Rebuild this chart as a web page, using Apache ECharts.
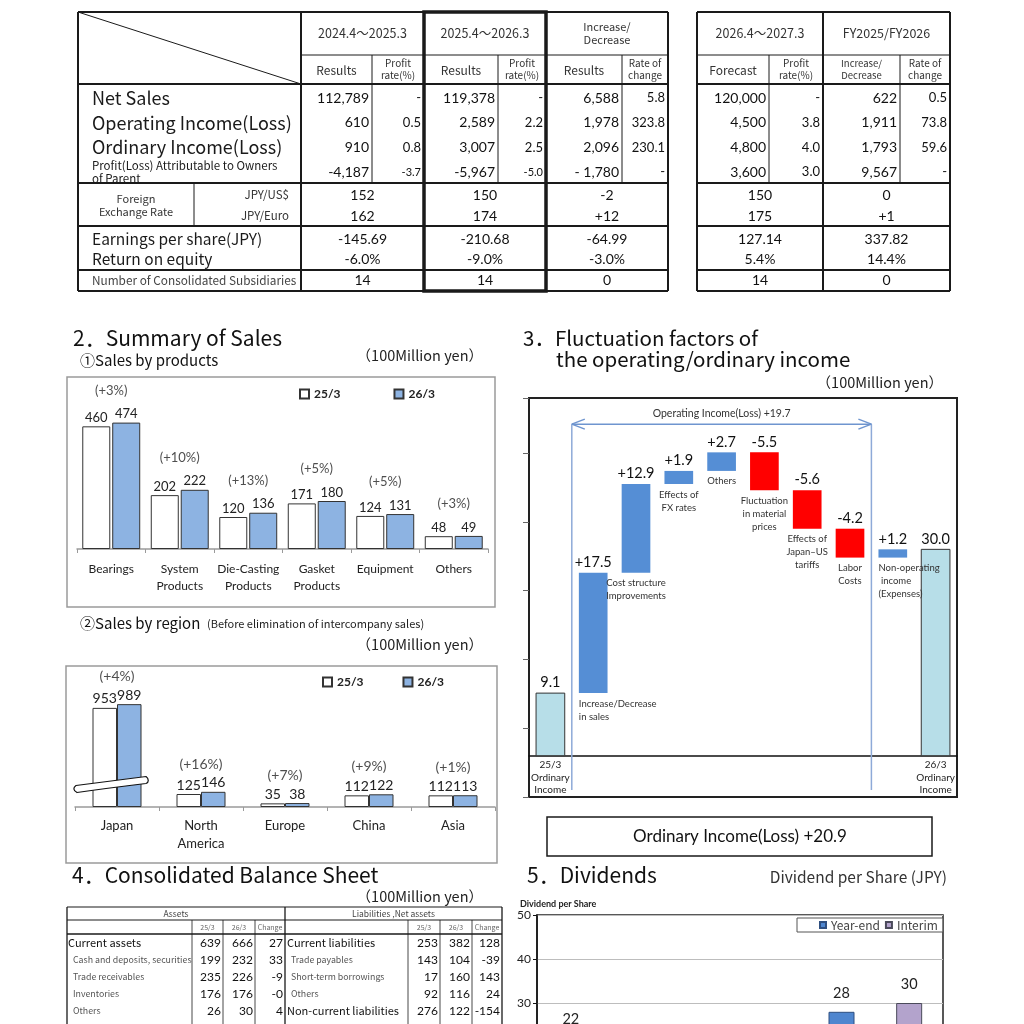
<!DOCTYPE html>
<html><head><meta charset="utf-8">
<script src="https://cdn.jsdelivr.net/npm/echarts@6/dist/echarts.min.js"></script>
<style>html,body{margin:0;padding:0;background:#fff}#c{width:1024px;height:1024px}</style>
</head><body><div id="c"></div>
<script>
// ================= DATA =================
// 1. summary table
const tableRowLabels = ['Net Sales','Operating Income(Loss)','Ordinary Income(Loss)','Profit(Loss) Attributable to Owners\nof Parent'];
const results2025 = ['112,789','610','910','-4,187'];
const rate2025 = ['-','0.5','0.8','-3.7'];
const results2026 = ['119,378','2,589','3,007','-5,967'];
const rate2026 = ['-','2.2','2.5','-5.0'];
const changeResults = ['6,588','1,978','2,096','- 1,780'];
const changeRate = ['5.8','323.8','230.1','-'];
const forecast2027 = ['120,000','4,500','4,800','3,600'];
const forecastRate = ['-','3.8','4.0','3.0'];
const fyChange = ['622','1,911','1,793','9,567'];
const fyChangeRate = ['0.5','73.8','59.6','-'];
const fxLabels = ['JPY/US$','JPY/Euro'];
const fx2025 = ['152','162'];
const fx2026 = ['150','174'];
const fxChange = ['-2','+12'];
const fxForecast = ['150','175'];
const fxFyChange = ['0','+1'];
const perShareLabels = ['Earnings per share(JPY)','Return on equity'];
const perShare2025 = ['-145.69','-6.0%'];
const perShare2026 = ['-210.68','-9.0%'];
const perShareChange = ['-64.99','-3.0%'];
const perShareForecast = ['127.14','5.4%'];
const perShareFyChange = ['337.82','14.4%'];
const subsidiaryCounts = ['14','14','0','14','0'];
const periodHeaders = ['2024.4～2025.3','2025.4～2026.3','Increase/\nDecrease','2026.4～2027.3','FY2025/FY2026'];
const subHeaders = ['Results','Profit\nrate(%)','Results','Profit\nrate(%)','Results','Rate of\nchange','Forecast','Profit\nrate(%)','Increase/\nDecrease','Rate of\nchange'];

// 2. sales
const productCats = ['Bearings','System\nProducts','Die-Casting\nProducts','Gasket\nProducts','Equipment','Others'];
const product25 = [460,202,120,171,124,48];
const product26 = [474,222,136,180,131,49];
const productPct = ['(+3%)','(+10%)','(+13%)','(+5%)','(+5%)','(+3%)'];
const regionCats = ['Japan','North\nAmerica','Europe','China','Asia'];
const region25 = [953,125,35,112,112];
const region26 = [989,146,38,122,113];
const regionPct = ['(+4%)','(+16%)','(+7%)','(+9%)','(+1%)'];

// 3. bridge
const bridgeCats = ['25/3\nOrdinary\nIncome','Increase/Decrease\nin sales','Cost structure\nImprovements','Effects of\nFX rates','Others','Fluctuation\nin material\nprices','Effects of\nJapan–US\ntariffs','Labor\nCosts','Non-operating\n income\n(Expenses)','26/3\nOrdinary\nIncome'];
const bridgeValues = [9.1, 17.5, 12.9, 1.9, 2.7, -5.5, -5.6, -4.2, 1.2, 30.0];

// 4. balance sheet
const assetLabels = ['Current assets','Cash and deposits, securities','Trade receivables','Inventories','Others'];
const assetLevels = [0,1,1,1,1];
const assets25 = ['639','199','235','176','26'];
const assets26 = ['666','232','226','176','30'];
const assetsChange = ['27','33','-9','-0','4'];
const liabLabels = ['Current liabilities','Trade payables','Short-term borrowings','Others','Non-current liabilities'];
const liabLevels = [0,1,1,1,0];
const liab25 = ['253','143','17','92','276'];
const liab26 = ['382','104','160','116','122'];
const liabChange = ['128','-39','143','24','-154'];

// 5. dividends
const divCats = ['22/3','23/3','24/3','25/3','26/3','27/3'];
const divInterim = [11,8,5,5,14,30];
const divYearEnd = [11,8,5,5,14,null];

// ================= HELPERS =================
const JP = '"Noto Sans CJK JP", "Noto Sans", sans-serif';
const NUM = 'Lato, "Noto Sans", sans-serif';
const G = [];
function L(x1,y1,x2,y2,w,c){G.push({type:'line',silent:true,z:10,shape:{x1,y1,x2,y2},style:{stroke:c||'#1a1a1a',lineWidth:w||1}});}
function T(x,y,text,o){o=o||{};const st={text:text,fill:o.fill||'#222',fontSize:o.size||12,fontFamily:o.font||JP,fontWeight:o.weight||'normal',textAlign:o.align||'left',textVerticalAlign:o.valign||'middle',align:o.align||'left',verticalAlign:o.valign||'middle'};if(o.lh)st.lineHeight=o.lh;G.push({type:'text',silent:true,z:11,x:x,y:y,style:st});}
function R(x,y,w,h,o){o=o||{};G.push({type:'rect',silent:true,z:o.z||9,shape:{x,y,width:w,height:h},style:{fill:o.fill||'transparent',stroke:o.stroke||'#1a1a1a',lineWidth:o.lw||1}});}

// ---------- top table ----------
[12,84,183,226,270,291].forEach(y=>{L(78,y,668,y,2);L(697,y,950,y,2);});
L(301,55,668,55,1);L(697,55,950,55,1);
[78,301,668,697,823,950].forEach(x=>L(x,12,x,291,2));
[372,498,622,769,900].forEach(x=>L(x,55,x,183,1));
L(194,183,194,226,1);
L(78,12,301,84,1);
R(424,12,122,279,{lw:3.5,z:12});
const groupCenters=[362.5,485,607,760,886.5];
periodHeaders.forEach((h,i)=>T(groupCenters[i],33,h,{align:'center',size:h.indexOf('\n')>=0?11:12.5,fill:'#333',lh:13}));
const subEdges=[301,372,424,498,546,622,668];
const subEdgesR=[697,769,823,900,950];
subHeaders.forEach((h,i)=>{
  let x;
  if(i<6){x=(subEdges[i]+subEdges[i+1])/2;}else{const k=i-6;x=(subEdgesR[k]+subEdgesR[k+1])/2;}
  const two=h.indexOf('\n')>=0;
  T(x,two?69.5:70,h,{align:'center',size:two?(i===8?9.5:10):12,fill:'#333',lh:12});
});
const rowY=i=>98+24.7*i;
tableRowLabels.forEach((t,i)=>{
  if(i<3) T(92,rowY(i),t,{size:18,fill:'#1a1a1a'});
  else T(92,rowY(i),t,{size:11.5,fill:'#1a1a1a',lh:13});
});
const leftCols=[[results2025,369,14],[rate2025,421,13],[results2026,495,14],[rate2026,543,13],[changeResults,619,14],[changeRate,665,13]];
leftCols.forEach(([arr,x,s])=>arr.forEach((v,i)=>T(x,rowY(i),v,{align:'right',font:NUM,size:(i===3&&s===13&&x<560)?11:s,fill:'#111'})));
const rightCols=[[forecast2027,766,14],[forecastRate,820,13],[fyChange,897,14],[fyChangeRate,947,13]];
rightCols.forEach(([arr,x,s])=>arr.forEach((v,i)=>T(x,rowY(i),v,{align:'right',font:NUM,size:s,fill:'#111'})));
T(136,205.5,'Foreign\nExchange Rate',{align:'center',size:11,fill:'#333',lh:13});
const fxY=[195,216];
fxLabels.forEach((t,i)=>T(289,fxY[i],t,{align:'right',size:11.5,fill:'#333'}));
[fx2025,fx2026,fxChange,fxForecast,fxFyChange].forEach((arr,k)=>arr.forEach((v,i)=>T(groupCenters[k],fxY[i],v,{align:'center',font:NUM,size:14,fill:'#111'})));
const psY=[239,259];
perShareLabels.forEach((t,i)=>T(92,psY[i],t,{size:15.5,fill:'#1a1a1a'}));
[perShare2025,perShare2026,perShareChange,perShareForecast,perShareFyChange].forEach((arr,k)=>arr.forEach((v,i)=>T(groupCenters[k],psY[i],v,{align:'center',font:NUM,size:14,fill:'#111'})));
T(92,280.5,'Number of Consolidated Subsidiaries',{size:11.8,fill:'#444'});
subsidiaryCounts.forEach((v,k)=>T(groupCenters[k],280.5,v,{align:'center',font:NUM,size:14,fill:'#111'}));

// ---------- section headings ----------
T(73,338,'2．Summary of Sales',{size:21,fill:'#111'});
T(80,360,'①Sales by products',{size:15,fill:'#111'});
T(483,355,'（100Million yen）',{align:'right',size:14.5,fill:'#222'});
R(67,377,428,230,{stroke:'#9a9a9a',lw:1.5});
T(80,623,'②Sales by region',{size:15,fill:'#111'});
T(207,624,'(Before elimination of intercompany sales)',{size:11,fill:'#222'});
T(483,644,'（100Million yen）',{align:'right',size:14.5,fill:'#222'});
R(66,666,431,197,{stroke:'#9a9a9a',lw:1.5});
T(523,338,'3．Fluctuation factors of',{size:20.5,fill:'#111'});
T(556,359,'the operating/ordinary income',{size:20.5,fill:'#111'});
T(943,382,'（100Million yen）',{align:'right',size:14.5,fill:'#222'});
R(547,817,385,39,{lw:1.5});
const ordinaryDelta=(bridgeValues[bridgeValues.length-1]-bridgeValues[0]).toFixed(1);
T(740,837,'Ordinary Income(Loss) +'+ordinaryDelta,{align:'center',font:NUM,size:17,fill:'#111'});
T(72,875,'4．Consolidated Balance Sheet',{size:21,fill:'#111'});
T(483,896,'（100Million yen）',{align:'right',size:14.5,fill:'#222'});
T(527,875,'5．Dividends',{size:21,fill:'#111'});
T(947,877,'Dividend per Share (JPY)',{align:'right',size:15.5,fill:'#333'});
T(520,904,'Dividend per Share',{size:9,font:NUM,weight:'bold',fill:'#222'});

// ---------- balance sheet table ----------
L(67,907,502,907,1.2);L(67,920,502,920,1);L(67,934,502,934,1.5);
[67,285,502].forEach(x=>L(x,907,x,1030,1.3));
[192,223,255,408,440,472].forEach(x=>L(x,920,x,1030,0.8));
T(176,913.5,'Assets',{align:'center',size:8.5,fill:'#444'});
T(393.5,913.5,'Liabilities ,Net assets',{align:'center',size:8.5,fill:'#444'});
const bsHead=['25/3','26/3','Change'];
[[192,223,255,285],[408,440,472,502]].forEach(e=>bsHead.forEach((h,i)=>T((e[i]+e[i+1])/2,927,h,{align:'center',size:7,fill:'#666'})));
const bsY=i=>943+17*i;
assetLabels.forEach((t,i)=>T(assetLevels[i]?73:68,bsY(i),t,assetLevels[i]?{size:8.8,fill:'#555'}:{size:11,fill:'#111'}));
liabLabels.forEach((t,i)=>T(liabLevels[i]?291:287,bsY(i),t,liabLevels[i]?{size:8.8,fill:'#555'}:{size:11,fill:'#111'}));
[[assets25,221],[assets26,253],[assetsChange,283],[liab25,438],[liab26,470],[liabChange,500]].forEach(([arr,x])=>arr.forEach((v,i)=>T(x,bsY(i),v,{align:'right',font:NUM,size:12,fill:'#111'})));

// ================= CHART =================
const chart = echarts.init(document.getElementById('c'), null, {renderer:'canvas'});
const nB = bridgeValues.length;
const bridgeData = [];
let run = 0;
bridgeValues.forEach((d,i)=>{
  if(i===0||i===nB-1){bridgeData.push([i,0,d]);run=d;}
  else{bridgeData.push([i,run,run+d]);run+=d;}
});
const operatingDelta = bridgeValues.slice(1,nB-2).reduce((a,b)=>a+b,0).toFixed(1);
const descAlign = {1:'left',8:'left'};
const bracketLevel = 48.2, bracketBottom = -5;
const breakAt = 245;

function pctSeries(name, xi, a, b, pct, dist, size){
  return {type:'scatter', name:name, xAxisIndex:xi, yAxisIndex:xi, silent:true, symbolSize:1, itemStyle:{color:'transparent'},
    data:a.map((v,i)=>[i,Math.max(v,b[i])]),
    label:{show:true, position:'top', distance:dist, fontSize:size, fontFamily:NUM, color:'#222', formatter:p=>pct[p.dataIndex]}, z:5};
}
const barLabel = (s)=>({show:true, position:'top', distance:2, fontSize:s, fontFamily:NUM, color:'#222'});
const txt = (x,y,text,o)=>({type:'text', x:x, y:y, z2:20, style:Object.assign({text:text, fontFamily:NUM, fill:'#333'}, o)});

const option = {
  backgroundColor:'#fff',
  animation:false,
  textStyle:{fontFamily:NUM},
  graphic:{elements:G},
  legend:[
    {data:['25/3','26/3'], left:299, top:388, padding:0, icon:'rect', itemWidth:9, itemHeight:9, itemGap:53, selectedMode:false,
     textStyle:{fontSize:12, fontWeight:'bold', fontFamily:NUM, color:'#222'}},
    {data:['25/3','26/3'], left:322, top:676, padding:0, icon:'rect', itemWidth:9, itemHeight:9, itemGap:39, selectedMode:false,
     textStyle:{fontSize:12, fontWeight:'bold', fontFamily:NUM, color:'#222'}},
    {data:['Year-end','Interim'], left:797, top:918, padding:[1,5,1,22], icon:'rect', itemWidth:6, itemHeight:6, itemGap:5, selectedMode:false,
     borderColor:'#555', borderWidth:1, backgroundColor:'#fff', z:6,
     textStyle:{fontSize:12, fontFamily:JP, color:'#444'}}
  ],
  grid:[
    {left:77, top:389, width:411, height:160, outerBoundsMode:'none', containLabel:false},
    {left:75, top:703, width:420, height:104, outerBoundsMode:'none', containLabel:false},
    {left:529, top:398, width:428, height:399, show:true, borderColor:'#222', borderWidth:2, outerBoundsMode:'none', containLabel:false},
    {left:537, top:915, width:406, height:220, show:true, borderColor:'#222', borderWidth:1.5, outerBoundsMode:'none', containLabel:false}
  ],
  xAxis:[
    {gridIndex:0, type:'category', data:productCats, axisLine:{lineStyle:{color:'#9a9a9a',width:1.5}}, axisTick:{show:true,length:4,lineStyle:{color:'#9a9a9a'}},
     axisLabel:{interval:0, fontSize:12, fontFamily:NUM, color:'#222', lineHeight:17, margin:12}},
    {gridIndex:1, type:'category', data:regionCats, axisLine:{lineStyle:{color:'#9a9a9a',width:1.5}}, axisTick:{show:true,length:4,lineStyle:{color:'#9a9a9a'}},
     axisLabel:{interval:0, fontSize:13, fontFamily:NUM, color:'#222', lineHeight:18, margin:10}},
    {gridIndex:2, type:'category', data:bridgeCats, axisLine:{onZero:true, lineStyle:{color:'#111',width:1.5}}, axisTick:{show:false},
     axisLabel:{show:false}},
    {gridIndex:3, type:'category', data:divCats, axisLine:{lineStyle:{color:'#111'}}, axisTick:{show:false}, axisLabel:{fontSize:11,color:'#222'}}
  ],
  yAxis:[
    {gridIndex:0, type:'value', min:0, max:600, show:false},
    {gridIndex:1, type:'value', min:0, max:1000, show:false},
    {gridIndex:2, type:'value', min:-6, max:52, interval:10, axisLine:{show:false}, axisTick:{show:true,length:6,lineStyle:{color:'#666'}}, axisLabel:{show:false}, splitLine:{show:false}},
    {gridIndex:3, type:'value', min:0, max:50, interval:10, axisLine:{show:true,lineStyle:{color:'#111',width:1.5}}, axisTick:{show:true,length:4,lineStyle:{color:'#111'}},
     axisLabel:{fontSize:12, fontFamily:NUM, color:'#222', margin:6}, splitLine:{lineStyle:{color:'#bdbdbd'}}}
  ],
  series:[
    {type:'bar', name:'25/3', xAxisIndex:0, yAxisIndex:0, data:product25, barWidth:28, barGap:'7%', itemStyle:{color:'#ffffff',borderColor:'#333',borderWidth:1}, label:barLabel(13)},
    {type:'bar', name:'26/3', xAxisIndex:0, yAxisIndex:0, data:product26, barWidth:28, barGap:'7%', itemStyle:{color:'#8db3e2',borderColor:'#333',borderWidth:1}, label:barLabel(13)},
    pctSeries('pctP',0,product25,product26,productPct,25,13),
    {type:'bar', name:'25/3', xAxisIndex:1, yAxisIndex:1, data:region25, barWidth:24.5, barGap:'0%', itemStyle:{color:'#ffffff',borderColor:'#333',borderWidth:1}, label:barLabel(14)},
    {type:'bar', name:'26/3', xAxisIndex:1, yAxisIndex:1, data:region26, barWidth:24.5, barGap:'0%', itemStyle:{color:'#8db3e2',borderColor:'#333',borderWidth:1}, label:barLabel(14)},
    pctSeries('pctR',1,region25,region26,regionPct,20,14),
    {type:'custom', name:'axisBreak', xAxisIndex:1, yAxisIndex:1, silent:true, z:6, data:[[0]],
     renderItem:function(params, api){
       const p = api.coord([0, breakAt]); const cx=p[0]-4, cy=p[1];
       const d = `M${cx-37} ${cy+4} C${cx-15} ${cy+1} ${cx+8} ${cy-2} ${cx+33} ${cy-5} `+
                 `C${cx+36} ${cy-3} ${cx+36} ${cy+1} ${cx+33} ${cy+2} `+
                 `C${cx+8} ${cy+5} ${cx-15} ${cy+8} ${cx-36} ${cy+11} `+
                 `C${cx-40} ${cy+9} ${cx-40} ${cy+6} ${cx-37} ${cy+4} Z`;
       return {type:'path', shape:{pathData:d}, style:{fill:'#fff', stroke:'#111', lineWidth:1.2}};
     }},
    {type:'custom', name:'bridge', xAxisIndex:2, yAxisIndex:2, data:bridgeData, z:4,
     renderItem:function(params, api){
       const i = params.dataIndex;
       const a = api.value(1), b = api.value(2);
       const pTop = api.coord([i, Math.max(a,b)]), pBot = api.coord([i, Math.min(a,b)]);
       const bw = api.size([1,0])[0]*0.67;
       const isTotal = (i===0||i===nB-1);
       const d = bridgeValues[i];
       const fill = isTotal ? '#b7dee8' : (d>=0 ? '#558ed5' : '#ff0000');
       const lbl = isTotal ? d.toFixed(1) : (d>0?'+':'')+d.toFixed(1);
       const ch = [
         {type:'rect', z2:1, shape:{x:pTop[0]-bw/2, y:pTop[1], width:bw, height:pBot[1]-pTop[1]}, style:{fill:fill, stroke:isTotal?'#333':'none', lineWidth:isTotal?1:0}},
         txt(pTop[0], pTop[1]-3, lbl, {fontSize:14.5, fill:'#111', align:'center', verticalAlign:'bottom', textAlign:'center', textVerticalAlign:'bottom'})
       ];
       if(!isTotal){
         const al = descAlign[i]||'center';
         ch.push(txt(al==='left' ? pTop[0]-bw/2 : pTop[0], pBot[1]+4, bridgeCats[i],
           {fontSize:9.5, lineHeight:13, align:al, verticalAlign:'top', textAlign:al, textVerticalAlign:'top'}));
       } else {
         ch.push(txt(pTop[0], pBot[1]+3, bridgeCats[i],
           {fontSize:10, lineHeight:12.5, fill:'#222', align:'center', verticalAlign:'top', textAlign:'center', textVerticalAlign:'top'}));
       }
       return {type:'group', children:ch};
     }},
    {type:'custom', name:'bracket', xAxisIndex:2, yAxisIndex:2, data:[[0,0]], z:3, silent:true,
     renderItem:function(params, api){
       const band = api.size([1,0])[0];
       const xL = api.coord([0,0])[0]+band/2, xR = api.coord([nB-3,0])[0]+band/2;
       const yA = api.coord([0,bracketLevel])[1], yB = api.coord([0,bracketBottom])[1];
       const c1='#8eaad8', c2='#6f95cf';
       const ln=(x1,y1,x2,y2,c)=>({type:'line', shape:{x1,y1,x2,y2}, style:{stroke:c, lineWidth:1.5}});
       return {type:'group', children:[
         ln(xL,yA,xL,yB,c1), ln(xR,yA,xR,yB,c1),
         ln(xL,yA,xR,yA,c2),
         ln(xL,yA,xL+13,yA-5,c2), ln(xL,yA,xL+13,yA+5,c2),
         ln(xR,yA,xR-13,yA-5,c2), ln(xR,yA,xR-13,yA+5,c2),
         txt((xL+xR)/2, yA-11, 'Operating Income(Loss) +'+operatingDelta, {fontSize:10.5, align:'center', verticalAlign:'middle', textAlign:'center', textVerticalAlign:'middle'})
       ]};
     }},
    {type:'bar', name:'Interim', xAxisIndex:3, yAxisIndex:3, stack:'div', data:divInterim, barWidth:26,
     itemStyle:{color:'#b3a3cc', borderColor:'#4a4a5a', borderWidth:1},
     label:{show:true, position:'top', distance:11, fontSize:14.5, fontFamily:NUM, color:'#222',
       formatter:p=>{const i=p.dataIndex; return (divYearEnd[i]==null||divYearEnd[i]===0)?String((divInterim[i]||0)):'';}}},
    {type:'bar', name:'Year-end', xAxisIndex:3, yAxisIndex:3, stack:'div', data:divYearEnd, barWidth:26,
     itemStyle:{color:'#4f86cf', borderColor:'#2f4f80', borderWidth:1},
     label:{show:true, position:'top', distance:11, fontSize:14.5, fontFamily:NUM, color:'#222',
       formatter:p=>{const i=p.dataIndex; return String((divInterim[i]||0)+(divYearEnd[i]||0));}}}
  ]
};
chart.setOption(option);
</script></body></html>
